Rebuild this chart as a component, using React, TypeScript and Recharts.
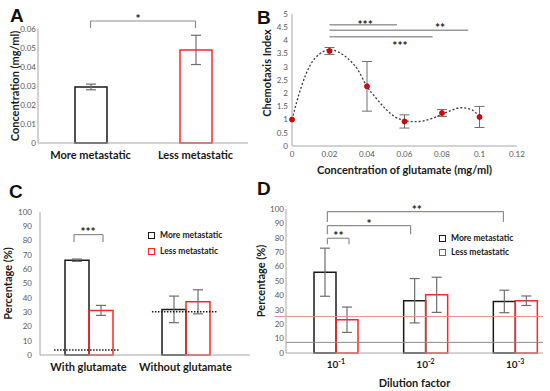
import {
  Bar,
  BarChart,
  Cell,
  ComposedChart,
  ErrorBar,
  Legend,
  Line,
  ReferenceDot,
  ReferenceLine,
  XAxis,
  YAxis,
} from "recharts";

const FONT = "Lato, 'Open Sans', sans-serif";
const INK = "#1a1a1a";
const RED = "#ff2626";
const AXIS = "#a6a6a6";
const TICK = "#595959";
const ERR = "#6e6e6e";
const BRACKET = "#8c8c8c";

// A – glutamate concentration
const aGroups = ["More metastatic", "Less metastatic"];
const aConc = [0.0295, 0.049];
const aErr = [0.0015, 0.0077];
const aColors = [INK, RED];
const aTicks = [0, 0.01, 0.02, 0.03, 0.04, 0.05, 0.06];

// B – chemotaxis index vs glutamate
const bConc = [0, 0.02, 0.04, 0.06, 0.08, 0.1];
const bIndex = [1.0, 3.6, 2.26, 0.93, 1.25, 1.1];
const bErr = [0, 0.13, 0.94, 0.25, 0.13, 0.4];
// dotted trend line
const bTrendConc = [0, 0.005, 0.01, 0.015, 0.02, 0.025, 0.03, 0.035, 0.04, 0.045, 0.05, 0.055, 0.06, 0.065, 0.07, 0.075, 0.08, 0.085, 0.09, 0.095, 0.1];
const bTrendIndex = [1.0, 2.25, 3.1, 3.5, 3.65, 3.55, 3.3, 2.9, 2.25, 1.8, 1.4, 1.1, 0.97, 0.92, 0.95, 1.05, 1.2, 1.35, 1.45, 1.4, 1.12];
const bXTicks = [0, 0.02, 0.04, 0.06, 0.08, 0.1, 0.12];
const bYTicks = [0, 0.5, 1, 1.5, 2, 2.5, 3, 3.5, 4, 4.5, 5];
// significance lines: [from, to, level]
const bSigLines = [
  [0.02, 0.056, 4.59],
  [0.02, 0.094, 4.38],
  [0.02, 0.075, 4.14],
];
const bSigStars = [
  { x: 0.039, y: 4.6, text: "***" },
  { x: 0.079, y: 4.49, text: "**" },
  { x: 0.0576, y: 3.8, text: "***" },
];

// C – with / without glutamate
const cGroups = ["With glutamate", "Without glutamate"];
const cMore = [66.3, 31.9];
const cMoreErr = [0.8, 9.3];
const cLess = [31.2, 37.2];
const cLessErr = [3.5, 8.4];
// dotted control levels, spans on a 0..1 helper axis
const cControl = [
  { from: 0.067, to: 0.376, level: 3.5 },
  { from: 0.533, to: 0.843, level: 30.2 },
];

// D – dilution factor
const dGroups = ["10^-1", "10^-2", "10^-3"];
const dMore = [56.1, 36.3, 35.8];
const dMoreErr = [16.7, 15.4, 7.8];
const dLess = [23.1, 40.4, 36.3];
const dLessErr = [8.8, 12.2, 3.3];
const dBaseMore = 7.4;
const dBaseLess = 25.3;
const dBrackets = [
  { from: 0.161, to: 0.846, top: 98.2, foot: 91 },
  { from: 0.161, to: 0.485, top: 88.5, foot: 82.5 },
  { from: 0.161, to: 0.245, top: 79.7, foot: 75.5 },
];
const dStars = [
  { x: 0.509, y: 99.3, text: "**" },
  { x: 0.323, y: 89.6, text: "*" },
  { x: 0.204, y: 81.2, text: "**" },
];

const pctTicks = [0, 10, 20, 30, 40, 50, 60, 70, 80, 90, 100];
const series = [
  { name: "More metastatic", color: INK },
  { name: "Less metastatic", color: RED },
];

const aData = aGroups.map((g, i) => ({ group: g, value: aConc[i], err: aErr[i] }));
const bPoints = bConc.map((x, i) => ({ x, y: bIndex[i], err: bErr[i] }));
const bTrend = bTrendConc.map((x, i) => ({ x, y: bTrendIndex[i] }));
const cData = cGroups.map((g, i) => ({
  group: g,
  more: cMore[i],
  moreErr: cMoreErr[i],
  less: cLess[i],
  lessErr: cLessErr[i],
}));
const dData = dGroups.map((g, i) => ({
  group: g,
  more: dMore[i],
  moreErr: dMoreErr[i],
  less: dLess[i],
  lessErr: dLessErr[i],
}));

const tickSmall = { fontSize: 8, fill: TICK, fontFamily: FONT };
const tickBig = { fontSize: 11, fill: INK, fontWeight: 700, fontFamily: FONT };
const titleStyle = { fontSize: 11, fontWeight: 700, fill: INK, fontFamily: FONT };

function bracket(key: string, x1: any, x2: any, top: number, foot: number, xAxisId: any) {
  const common = { xAxisId, stroke: BRACKET, strokeWidth: 1.2, ifOverflow: "visible" as const };
  return [
    <ReferenceLine key={key + "h"} {...common} segment={[{ x: x1, y: top }, { x: x2, y: top }]} />,
    <ReferenceLine key={key + "l"} {...common} segment={[{ x: x1, y: top }, { x: x1, y: foot }]} />,
    <ReferenceLine key={key + "r"} {...common} segment={[{ x: x2, y: top }, { x: x2, y: foot }]} />,
  ];
}

function stars(key: string, x: any, y: number, text: string, xAxisId: any) {
  return (
    <ReferenceDot
      key={key}
      xAxisId={xAxisId}
      x={x}
      y={y}
      r={1}
      fill="none"
      stroke="none"
      ifOverflow="visible"
      label={{ value: text, position: "center", fill: INK, fontSize: 12, fontWeight: 700, fontFamily: FONT }}
    />
  );
}

function BoxLegend({ rowHeight }: { rowHeight: number }) {
  return (
    <div style={{ fontFamily: FONT, fontSize: 8.5, fontWeight: 700, color: INK }}>
      {series.map((s) => (
        <div key={s.name} style={{ display: "flex", alignItems: "center", height: rowHeight, whiteSpace: "nowrap" }}>
          <span
            style={{
              display: "inline-block",
              width: 5,
              height: 5,
              border: `1.5px solid ${s.color}`,
              marginRight: 5,
            }}
          />
          {s.name}
        </div>
      ))}
    </div>
  );
}

function PowerTick({ x, y, payload }: any) {
  const [base, exp] = String(payload.value).split("^");
  return (
    <text x={x} y={y} dy="0.71em" textAnchor="middle" fontFamily={FONT} fontSize={10} fontWeight={700} fill={INK}>
      {base}
      <tspan dy={-4} fontSize={7}>
        {exp}
      </tspan>
    </text>
  );
}

function PanelTitle({ text, x, y }: { text: string; x: number; y: number }) {
  return (
    <div
      style={{
        position: "absolute",
        left: x,
        top: y,
        fontFamily: "'Liberation Sans', Arial, sans-serif",
        fontWeight: 700,
        fontSize: 19,
        lineHeight: "19px",
        color: "#111",
      }}
    >
      {text}
    </div>
  );
}

// hidden 0..1 axis spanning the plot width, used only for annotations
function helperAxis() {
  return <XAxis xAxisId="n" dataKey="frac" type="number" domain={[0, 1]} allowDataOverflow hide />;
}

function PanelA() {
  return (
    <BarChart width={275} height={195} data={aData} margin={{ top: 29, right: 27, left: 8, bottom: 32 }}>
      <XAxis dataKey="group" height={20} tickLine={false} axisLine={{ stroke: AXIS }} tick={tickBig} interval={0} />
      <YAxis
        domain={[0, 0.06]}
        ticks={aTicks}
        interval={0}
        width={30}
        tickLine={false}
        tickSize={1}
        tickMargin={1}
        axisLine={{ stroke: AXIS }}
        tick={tickSmall}
        label={{ value: "Concentration (mg/ml)", angle: -90, position: "insideLeft", offset: 7, style: { ...titleStyle, textAnchor: "middle" } }}
      />
      <Bar dataKey="value" barSize={32} fill="none" strokeWidth={1.5} isAnimationActive={false}>
        {aData.map((d, i) => (
          <Cell key={d.group} stroke={aColors[i]} />
        ))}
        <ErrorBar dataKey="err" width={5} stroke={ERR} strokeWidth={1.2} direction="y" />
      </Bar>
      {bracket("a", aGroups[0], aGroups[1], 0.0642, 0.0605, 0)}
      <ReferenceLine
        segment={[{ x: aGroups[0], y: 0.0642 }, { x: aGroups[1], y: 0.0642 }]}
        stroke="none"
        ifOverflow="visible"
        label={{ value: "*", position: "center", dx: -5, dy: -2, fill: INK, fontSize: 12, fontWeight: 700, fontFamily: FONT }}
      />
    </BarChart>
  );
}

function PanelB() {
  return (
    <ComposedChart width={295} height={195} margin={{ top: 14, right: 33, left: 1, bottom: 19 }}>
      <XAxis
        dataKey="x"
        type="number"
        domain={[0, 0.12]}
        ticks={bXTicks}
        interval={0}
        height={30}
        tickLine={false}
        tickSize={3}
        tickMargin={2}
        axisLine={{ stroke: AXIS }}
        tick={tickSmall}
        label={{ value: "Concentration of glutamate (mg/ml)", position: "insideBottom", offset: 2, style: titleStyle }}
      />
      <YAxis
        type="number"
        domain={[0, 5]}
        ticks={bYTicks}
        interval={0}
        width={36}
        tickLine={false}
        tickSize={2}
        tickMargin={2}
        axisLine={{ stroke: AXIS }}
        tick={tickSmall}
        label={{ value: "Chemotaxis Index", angle: -90, position: "insideLeft", offset: 11, dy: -7, style: { ...titleStyle, textAnchor: "middle" } }}
      />
      {bSigLines.map(([x1, x2, y], i) => (
        <ReferenceLine key={"bl" + i} segment={[{ x: x1, y }, { x: x2, y }]} stroke="#9a9a9a" strokeWidth={1.5} />
      ))}
      {bSigStars.map((s, i) => stars("bs" + i, s.x, s.y, s.text, 0))}
      <Line data={bTrend} dataKey="y" type="monotone" stroke="#3a3a3a" strokeWidth={1.3} strokeDasharray="2 2" dot={false} isAnimationActive={false} />
      <Line
        data={bPoints}
        dataKey="y"
        stroke="none"
        dot={{ r: 2.5, fill: "#e00000", stroke: "#b00000", strokeWidth: 0.8 }}
        isAnimationActive={false}
      >
        <ErrorBar dataKey="err" width={5} stroke={ERR} strokeWidth={1} direction="y" />
      </Line>
    </ComposedChart>
  );
}

function PanelC() {
  return (
    <BarChart width={275} height={196} data={cData} margin={{ top: 17, right: 25, left: 0, bottom: 6 }} barGap={0}>
      <XAxis dataKey="group" height={30} tickLine={false} axisLine={{ stroke: AXIS }} padding={{ left: 0, right: 16 }} tick={tickBig} interval={0} />
      {helperAxis()}
      <YAxis
        domain={[0, 100]}
        ticks={pctTicks}
        interval={0}
        width={40}
        tickLine={false}
        tickSize={5}
        tickMargin={3}
        axisLine={{ stroke: AXIS }}
        tick={tickSmall}
        label={{ value: "Percentage (%)", angle: -90, position: "insideLeft", offset: 8, style: { ...titleStyle, textAnchor: "middle" } }}
      />
      <Bar dataKey="more" name="More metastatic" fill="none" stroke={INK} strokeWidth={1.5} barSize={24} isAnimationActive={false}>
        <ErrorBar dataKey="moreErr" width={5} stroke={ERR} strokeWidth={1.2} direction="y" />
      </Bar>
      <Bar dataKey="less" name="Less metastatic" fill="none" stroke={RED} strokeWidth={1.5} barSize={24} isAnimationActive={false}>
        <ErrorBar dataKey="lessErr" width={5} stroke={ERR} strokeWidth={1.2} direction="y" />
      </Bar>
      {cControl.map((c, i) => (
        <ReferenceLine
          key={"cc" + i}
          xAxisId="n"
          segment={[{ x: c.from, y: c.level }, { x: c.to, y: c.level }]}
          stroke={INK}
          strokeWidth={1.5}
          strokeDasharray="1.5 1.5"
        />
      ))}
      {bracket("c", 0.162, 0.3, 84.2, 79, "n")}
      {stars("cs", 0.229, 86.5, "***", "n")}
      <Legend
        layout="vertical"
        align="center"
        verticalAlign="middle"
        content={() => <BoxLegend rowHeight={16} />}
        wrapperStyle={{ left: 148, top: 32, width: "auto" }}
      />
    </BarChart>
  );
}

function PanelD() {
  return (
    <BarChart width={295} height={196} data={dData} margin={{ top: 14, right: 7, left: 0, bottom: 2 }} barGap={0}>
      <XAxis
        dataKey="group"
        height={36}
        tickLine={false}
        axisLine={{ stroke: AXIS }}
        padding={{ left: 5, right: -17 }}
        tick={<PowerTick />}
        interval={0}
        label={{ value: "Dilution factor", position: "insideBottom", offset: 2, style: titleStyle }}
      />
      {helperAxis()}
      <YAxis
        domain={[0, 100]}
        ticks={pctTicks}
        interval={0}
        width={31}
        tickLine={false}
        tickSize={1}
        tickMargin={1}
        axisLine={{ stroke: AXIS }}
        tick={tickSmall}
        label={{ value: "Percentage (%)", angle: -90, position: "insideLeft", offset: 6, style: { ...titleStyle, textAnchor: "middle" } }}
      />
      <Bar dataKey="more" name="More metastatic" fill="none" stroke={INK} strokeWidth={1.5} barSize={22} isAnimationActive={false}>
        <ErrorBar dataKey="moreErr" width={5} stroke={ERR} strokeWidth={1.2} direction="y" />
      </Bar>
      <Bar dataKey="less" name="Less metastatic" fill="none" stroke={RED} strokeWidth={1.5} barSize={22} isAnimationActive={false}>
        <ErrorBar dataKey="lessErr" width={5} stroke={ERR} strokeWidth={1.2} direction="y" />
      </Bar>
      <ReferenceLine
        xAxisId="n"
        segment={[{ x: -0.043, y: dBaseLess }, { x: 1, y: dBaseLess }]}
        stroke="#f08c8c"
        strokeWidth={1}
        ifOverflow="visible"
      />
      <ReferenceLine y={dBaseMore} stroke="#8c8c8c" strokeWidth={1} />
      {dBrackets.map((b, i) => bracket("d" + i, b.from, b.to, b.top, b.foot, "n"))}
      {dStars.map((s, i) => stars("ds" + i, s.x, s.y, s.text, "n"))}
      <Legend
        layout="vertical"
        align="center"
        verticalAlign="middle"
        content={() => <BoxLegend rowHeight={14} />}
        wrapperStyle={{ left: 184, top: 36, width: "auto" }}
      />
    </BarChart>
  );
}

export default function App() {
  return (
    <div style={{ position: "absolute", left: 0, top: 0, width: 550, height: 391, background: "#fff", overflow: "hidden" }}>
      <div style={{ position: "absolute", left: 0, top: 0 }}>
        <PanelA />
      </div>
      <div style={{ position: "absolute", left: 255, top: 0 }}>
        <PanelB />
      </div>
      <div style={{ position: "absolute", left: 0, top: 195 }}>
        <PanelC />
      </div>
      <div style={{ position: "absolute", left: 255, top: 195 }}>
        <PanelD />
      </div>
      <PanelTitle text="A" x={10} y={6} />
      <PanelTitle text="B" x={257} y={8} />
      <PanelTitle text="C" x={9} y={182} />
      <PanelTitle text="D" x={257} y={179} />
    </div>
  );
}
